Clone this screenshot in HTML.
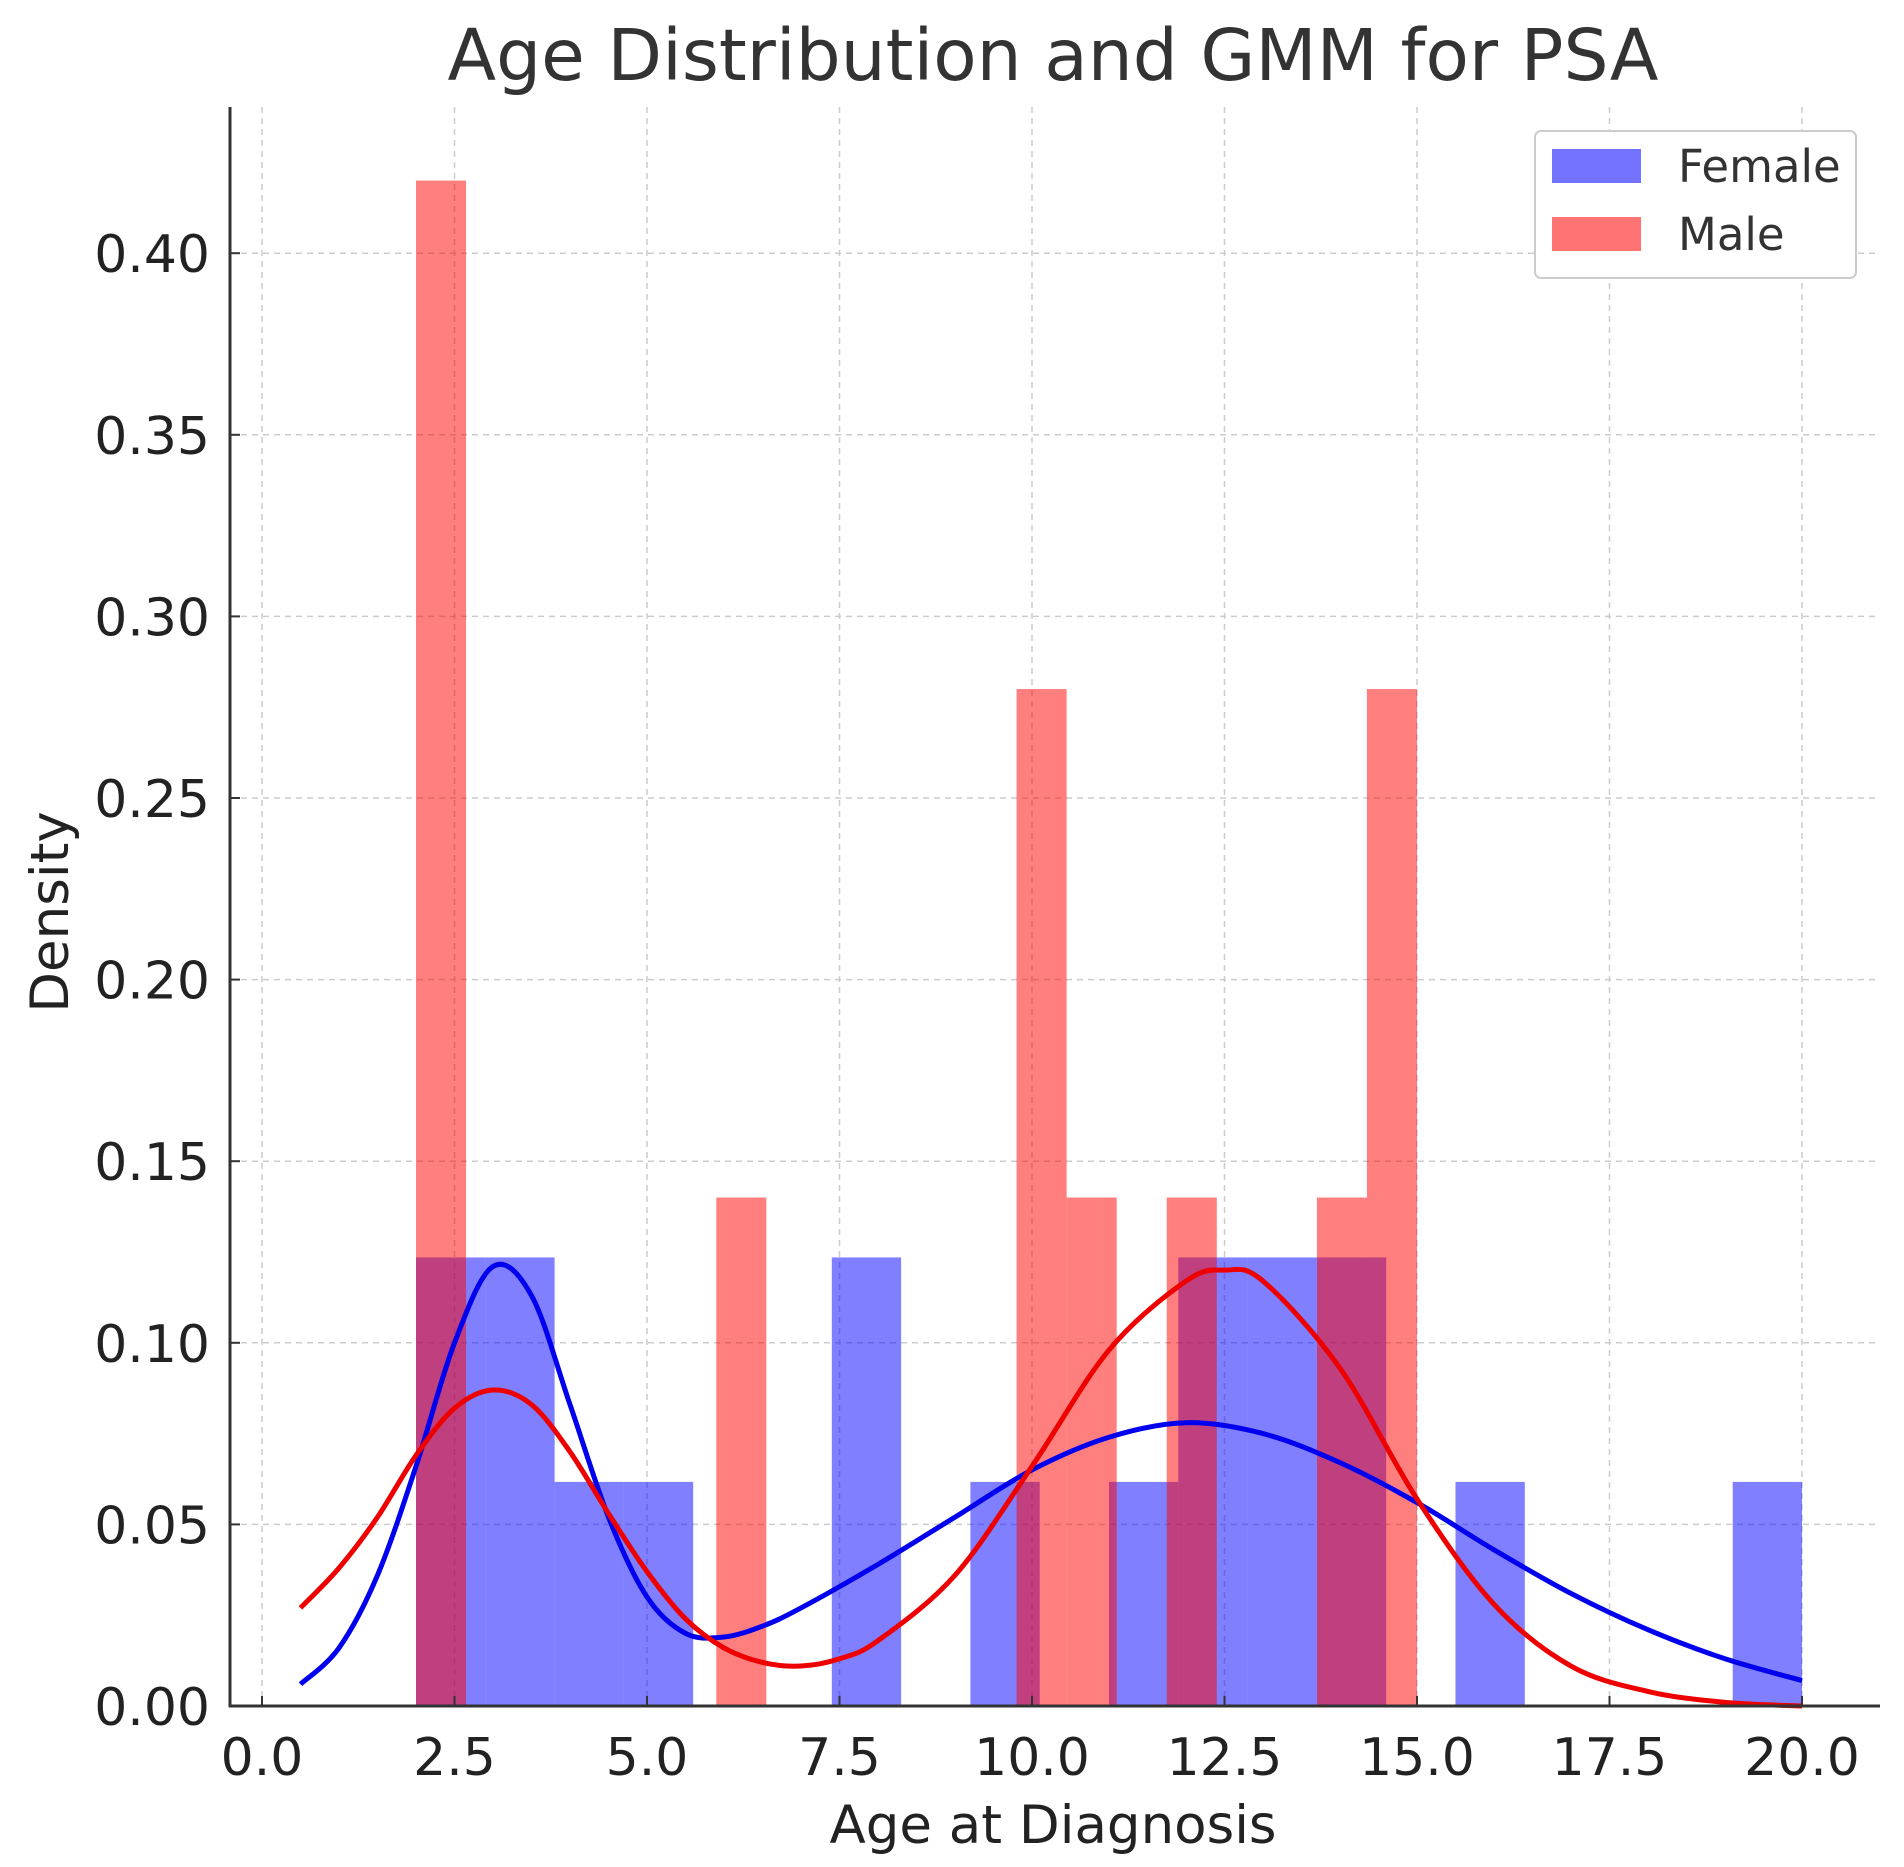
<!DOCTYPE html>
<html><head><meta charset="utf-8"><style>
html,body{margin:0;padding:0;background:#fff;}
svg{display:block;font-family:"DejaVu Sans","Liberation Sans",sans-serif;}
</style></head><body>
<svg id="chart" width="1904" height="1867" viewBox="0 0 1904 1867" xmlns="http://www.w3.org/2000/svg">
<text x="1053" y="80" font-size="71" text-anchor="middle" fill="#333">Age Distribution and GMM for PSA</text>
<g id="grid"></g>
<g id="bars"></g>
<g id="curves"></g>
<g id="axes"></g>
<text x="1053" y="1843" font-size="53" text-anchor="middle" fill="#222">Age at Diagnosis</text>
<text transform="translate(68,912) rotate(-90)" font-size="53" text-anchor="middle" fill="#222">Density</text>
<g>
<rect x="1535" y="131" width="321" height="147" rx="6" fill="#fff" stroke="#ccc" stroke-width="2"/>
<g>
<rect x="1552" y="149" width="89" height="34" fill="rgba(0,0,255,0.55)"/>
<text x="1678" y="182" font-size="45" fill="#333">Female</text></g>
<g>
<rect x="1552" y="217" width="89" height="34" fill="rgba(255,0,0,0.55)"/>
<text x="1678" y="250" font-size="45" fill="#333">Male</text></g>
</g>
</svg>
<script>
const femaleBinStart = 2.0, femaleBinWidth = 0.9;
const femaleDensity = [0.1235,0.1235,0.0617,0.0617,0,0,0.1235,0,0.0617,0,0.0617,0.1235,0.1235,0.1235,0,0.0617,0,0,0,0.0617];
const maleBinStart = 2.0, maleBinWidth = 0.65;
const maleDensity = [0.42,0,0,0,0,0,0.14,0,0,0,0,0,0.28,0.14,0,0.14,0,0,0.14,0.28];
const femaleCurveX = [0.5,1,1.5,2,2.5,3,3.5,4,4.5,5,5.5,6,6.5,7,8,9,10,11,12,13,14,15,16,17,18,19,20];
const femaleCurveY = [0.006,0.016,0.036,0.066,0.100,0.121,0.113,0.083,0.052,0.030,0.020,0.019,0.022,0.027,0.039,0.052,0.065,0.074,0.078,0.075,0.067,0.056,0.043,0.031,0.021,0.013,0.007];
const maleCurveX = [0.5,1,1.5,2,2.5,3,3.5,4,4.5,5,5.5,6,6.5,7,7.5,8,9,10,11,12,12.5,13,14,15,16,17,18,19,20];
const maleCurveY = [0.027,0.038,0.052,0.069,0.082,0.087,0.083,0.070,0.053,0.037,0.024,0.016,0.012,0.011,0.013,0.018,0.036,0.066,0.098,0.117,0.120,0.117,0.093,0.057,0.028,0.011,0.004,0.001,0.000];
const xTicks = [0,2.5,5,7.5,10,12.5,15,17.5,20];
const yTicks = [0,0.05,0.10,0.15,0.20,0.25,0.30,0.35,0.40];

const NS = "http://www.w3.org/2000/svg";
const X0 = 262, XS = 77, Y0 = 1706, YS = 3632;
const sx = v => X0 + v * XS;
const sy = v => Y0 - v * YS;
const PL = 230, PR = 1880, PT = 107;
function mk(tag, attrs, parent){const e=document.createElementNS(NS,tag);for(const k in attrs)e.setAttribute(k,attrs[k]);parent.appendChild(e);return e;}
const grid=document.getElementById('grid'), bars=document.getElementById('bars'), curves=document.getElementById('curves'), axes=document.getElementById('axes');
xTicks.forEach(t=>{
  const l=mk('line',{x1:sx(t),x2:sx(t),y1:PT,y2:Y0,stroke:'#ccc','stroke-width':1.5,'stroke-dasharray':'6,5'},grid);
  
  
  const tk=mk('line',{x1:sx(t),x2:sx(t),y1:Y0,y2:Y0-10,stroke:'#333','stroke-width':2},axes);
  
  
  const tx=mk('text',{x:sx(t),y:1775,'font-size':52,'text-anchor':'middle',fill:'#222'},axes);
  tx.textContent=t.toFixed(1);
  
  
});
yTicks.forEach(t=>{
  const l=mk('line',{x1:PL,x2:PR,y1:sy(t),y2:sy(t),stroke:'#ccc','stroke-width':1.5,'stroke-dasharray':'6,5'},grid);
  
  
  const tk=mk('line',{x1:PL,x2:PL+10,y1:sy(t),y2:sy(t),stroke:'#333','stroke-width':2},axes);
  
  
  const tx=mk('text',{x:210,y:sy(t)+19,'font-size':52,'text-anchor':'end',fill:'#222'},axes);
  tx.textContent=t.toFixed(2);
  
  
});
function drawBars(start,w,vals,color,name){
  vals.forEach((v,i)=>{ if(v<=0) return;
    const a=start+i*w;
    const r=mk('rect',{x:sx(a),y:sy(v),width:w*XS,height:Y0-sy(v),fill:color},bars);
    
    
  });
}
drawBars(femaleBinStart,femaleBinWidth,femaleDensity,'rgba(0,0,255,0.5)','bar-female');
drawBars(maleBinStart,maleBinWidth,maleDensity,'rgba(255,0,0,0.5)','bar-male');
function smooth(xs,ys){
  const p=xs.map((x,i)=>[sx(x),sy(ys[i])]);
  let d='M'+p[0][0]+','+p[0][1];
  for(let i=0;i<p.length-1;i++){
    const p0=p[i-1]||p[i],p1=p[i],p2=p[i+1],p3=p[i+2]||p2;
    const c1=[p1[0]+(p2[0]-p0[0])/6,p1[1]+(p2[1]-p0[1])/6];
    const c2=[p2[0]-(p3[0]-p1[0])/6,p2[1]-(p3[1]-p1[1])/6];
    d+=` C${c1[0]},${c1[1]} ${c2[0]},${c2[1]} ${p2[0]},${p2[1]}`;
  }
  return d;
}
const fc=mk('path',{d:smooth(femaleCurveX,femaleCurveY),fill:'none',stroke:'#0000ee','stroke-width':5},curves);


const mc=mk('path',{d:smooth(maleCurveX,maleCurveY),fill:'none',stroke:'#ee0000','stroke-width':5},curves);


const ls=mk('line',{x1:PL,x2:PL,y1:PT,y2:Y0+1,stroke:'#333','stroke-width':3},axes);


const bs=mk('line',{x1:PL-1,x2:PR,y1:Y0,y2:Y0,stroke:'#333','stroke-width':3},axes);


</script>
</body></html>
